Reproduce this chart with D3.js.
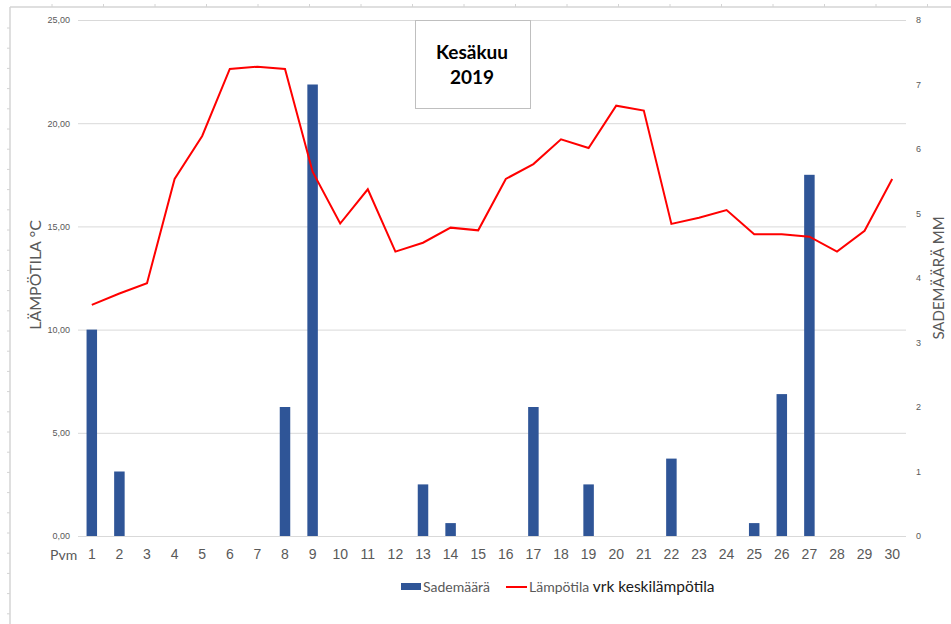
<!DOCTYPE html>
<html><head><meta charset="utf-8">
<script src="https://cdn.jsdelivr.net/npm/d3@7/dist/d3.min.js"></script>
<style>body{margin:0;background:#fff;}svg{display:block;font-family:Lato,"Open Sans",sans-serif;}</style>
</head><body><svg id="c" width="951" height="624"></svg>
<script>
const days = d3.range(1,31).map(String);
const rain = [3.2,1.0,0,0,0,0,0,2.0,7.0,0,0,0,0.8,0.2,0,0,2.0,0,0.8,0,0,1.2,0,0,0.2,2.2,5.6,0,0,0];
const temp = [11.2,11.75,12.25,17.3,19.38,22.63,22.74,22.63,17.65,15.14,16.8,13.78,14.21,14.94,14.81,17.3,18.02,19.22,18.8,20.85,20.61,15.12,15.42,15.79,14.62,14.62,14.5,13.78,14.79,17.3];
const leftTicks = [0,5,10,15,20,25];
const rightTicks = [0,1,2,3,4,5,6,7,8];
const title = ["Kesäkuu","2019"];

const svg = d3.select("#c");
const x = d3.scaleBand().domain(days).range([78,906]);
const yL = d3.scaleLinear().domain([0,25]).range([536,20]);
const yR = d3.scaleLinear().domain([0,8]).range([536,20]);

// page frame (ruler-like border)
const frame = svg.append("g");
frame.append("line").attr("x1",10).attr("x2",10).attr("y1",7).attr("y2",624).attr("stroke","#d4d4d4").attr("stroke-width",1.5);
frame.append("line").attr("x1",10).attr("x2",951).attr("y1",7).attr("y2",7).attr("stroke","#d4d4d4").attr("stroke-width",1.5);
frame.selectAll(".lt").data(d3.range(28,624,20.2)).join("line").attr("x1",7).attr("x2",10).attr("y1",d=>d).attr("y2",d=>d).attr("stroke","#d4d4d4");
frame.selectAll(".tt").data(d3.range(52,951,51.5)).join("line").attr("x1",d=>d).attr("x2",d=>d).attr("y1",4).attr("y2",7).attr("stroke","#d4d4d4");

// gridlines
const gl = d3.axisLeft(yL).tickValues(leftTicks).tickSize(-(906-78)).tickFormat(d=>d3.format(".2f")(d).replace(".",","));
const ga = svg.append("g").attr("transform","translate(78,0)").call(gl);
ga.select(".domain").remove();
ga.selectAll(".tick line").attr("stroke","#d9d9d9");
ga.selectAll(".tick text").attr("x",-8).attr("fill","#595959").style("font-size","9px");

const gr = d3.axisRight(yR).tickValues(rightTicks).tickSize(0).tickFormat(d3.format("d"));
const ra = svg.append("g").attr("transform","translate(906,0)").call(gr);
ra.select(".domain").remove();
ra.selectAll(".tick text").attr("x",10).attr("fill","#595959").style("font-size","9px");

// bars
const bw = 10.5;
svg.append("g").selectAll("rect").data(rain.map((v,i)=>({d:days[i],v}))).join("rect")
  .attr("x",d=>x(d.d)+x.bandwidth()/2-bw/2).attr("width",bw)
  .attr("y",d=>yR(d.v)).attr("height",d=>yR(0)-yR(d.v)).attr("fill","#2F5597");

// line
svg.append("path").datum(temp.map((v,i)=>({d:days[i],v})))
  .attr("d",d3.line().x(d=>x(d.d)+x.bandwidth()/2).y(d=>yL(d.v)))
  .attr("fill","none").attr("stroke","#FF0000").attr("stroke-width",2).attr("stroke-linejoin","miter");

// x labels
const xa = d3.axisBottom(x).tickSize(0);
const xg = svg.append("g").attr("transform","translate(0,546)").call(xa);
xg.select(".domain").remove();
xg.selectAll(".tick text").attr("fill","#595959").style("font-size","14px").attr("dy","0.71em");
svg.append("text").attr("x",50).attr("y",560).attr("fill","#595959").style("font-size","14px").text("Pvm");

// axis titles
svg.append("text").attr("transform","translate(41,275) rotate(-90)").attr("text-anchor","middle")
  .attr("fill","#595959").style("font-size","16px").text("LÄMPÖTILA °C");
svg.append("text").attr("transform","translate(944,278) rotate(-90)").attr("text-anchor","middle")
  .attr("fill","#595959").style("font-size","15px").text("SADEMÄÄRÄ MM");

// title box
svg.append("rect").attr("x",415.5).attr("y",20.5).attr("width",115).attr("height",88).attr("fill","#fff").attr("stroke","#bfbfbf");
svg.append("text").attr("x",472).attr("y",59).attr("text-anchor","middle").style("font-size","19px").style("font-weight","bold").attr("fill","#000").text(title[0]);
svg.append("text").attr("x",472).attr("y",84).attr("text-anchor","middle").style("font-size","19px").style("font-weight","bold").attr("fill","#000").text(title[1]);

// legend
const lg = svg.append("g");
lg.append("rect").attr("x",401).attr("y",583).attr("width",20).attr("height",7).attr("fill","#2F5597");
lg.append("text").attr("x",423).attr("y",592).attr("fill","#595959").style("font-size","14px").text("Sademäärä");
lg.append("line").attr("x1",506).attr("x2",527).attr("y1",587).attr("y2",587).attr("stroke","#FF0000").attr("stroke-width",2);
const lt = lg.append("text").attr("x",529).attr("y",592).style("font-size","14px");
lt.append("tspan").attr("fill","#595959").text("Lämpötila ");
lt.append("tspan").attr("fill","#1a1a1a").style("font-size","15.5px").text("vrk keskilämpötila");
</script></body></html>
